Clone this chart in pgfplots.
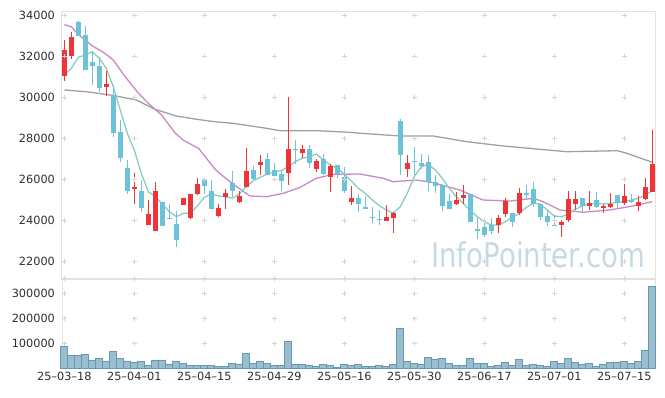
\documentclass[border=0pt]{standalone}
\usepackage{fontspec}
\setmainfont{DejaVu Sans}
\usepackage{pgfplots}
\usepackage{pgfplotstable}
\pgfplotsset{compat=1.18}
\definecolor{cred}{RGB}{238,52,56}
\definecolor{cblue}{RGB}{108,194,216}
\definecolor{cteal}{RGB}{138,204,190}
\definecolor{cpurple}{RGB}{200,138,194}
\definecolor{cgray}{RGB}{150,150,150}
\definecolor{volfill}{RGB}{152,190,207}
\definecolor{voledge}{RGB}{104,152,176}
\definecolor{frame}{RGB}{226,226,226}
\definecolor{cross}{RGB}{212,212,212}
\definecolor{wm}{RGB}{198,217,228}

% up (red) candles: index open high low close
\pgfplotstableread{
i o h l c
0 31050 32800 30800 32300
1 32000 33150 31850 32950
6 30500 31250 30050 30650
10 25500 26300 24800 25600
12 23750 25000 23750 24300
13 23500 25850 23500 25450
17 24750 25100 24750 25100
18 24100 25300 24050 25300
19 25300 26050 25250 25750
22 24200 24800 24150 24600
23 25150 25500 24550 25350
25 24900 25450 24850 25200
26 25600 27500 25600 26400
28 26700 27200 26200 26850
32 26300 30000 25700 27450
34 27300 27650 27050 27450
36 26500 27000 26350 26900
38 26100 26750 25400 26650
41 24900 25650 24750 25100
46 23950 24750 23950 24150
47 24100 24400 23400 24350
49 26500 27200 26100 26800
56 24800 25400 24750 25000
57 25100 25700 24800 25250
62 23750 24250 23400 24100
63 24300 25100 24150 24950
65 24350 25550 24250 25350
71 23750 24000 23200 23900
72 24000 25450 23900 25050
73 24800 25450 24500 25050
75 24700 25450 24500 24850
77 24600 24800 24350 24700
78 24650 25350 24600 24800
80 24850 25750 24750 25200
82 24700 25200 24450 24900
83 25050 26050 25000 25600
84 25400 28400 25400 26750
}\uptab

% down (blue) candles: index open high low close
\pgfplotstableread{
i o h l c
2 33650 33700 33000 33000
3 33050 33450 31300 31300
4 31700 32200 30600 31500
5 31500 31950 30250 30450
7 30100 30600 28050 28250
8 28300 28900 26850 27050
9 26550 26950 25300 25450
11 25450 25950 24400 24600
14 24900 24900 23700 23700
15 24100 24800 24050 24050
16 23800 24450 22700 23050
20 25950 25950 25300 25650
21 25450 25950 24550 24550
24 25800 26400 25150 25450
27 26450 26650 25900 26000
29 27000 27300 26200 26200
30 26450 26800 26150 26150
31 26250 26450 25450 25900
33 27450 27900 26750 27400
35 27450 27650 26550 26800
37 27000 27250 26200 26250
39 26700 26700 26050 26250
40 26100 26600 25350 25450
42 25100 25300 24400 24800
43 24650 25200 24550 24550
44 24150 24650 23850 24100
45 24050 24500 23750 24000
48 28850 28950 26200 27200
50 26900 27550 26200 26850
51 26800 27250 26500 26650
52 26850 27200 25450 25850
53 25850 26200 25350 25650
54 25700 25700 24450 24700
55 24950 25300 24550 24550
58 25300 25300 23900 23900
59 23550 24100 23100 23500
60 23650 24100 23200 23300
61 23750 24100 23350 23500
64 24350 24350 23650 23900
66 25350 25700 25000 25250
67 25500 25850 24650 24800
68 24800 24800 24000 24150
69 24200 24500 23700 23900
70 23750 24250 23700 23700
74 25100 25100 24400 24700
76 25000 25400 24600 24650
79 25250 25250 24550 24850
81 25000 25300 24850 24900
}\downtab

\pgfplotstableread{
i v
0 89000
1 52500
2 52500
3 56500
4 33500
5 40500
6 29500
7 69000
8 40500
9 29500
10 25500
11 28500
12 13500
13 33500
14 33500
15 17500
16 29500
17 20000
18 12000
19 12000
20 12000
21 12000
22 8000
23 8000
24 20000
25 17500
26 60500
27 20000
28 29500
29 20000
30 12000
31 12000
32 109000
33 16000
34 16000
35 12000
36 8000
37 16000
38 12000
39 4000
40 16000
41 12000
42 16000
43 8000
44 8000
45 12000
46 8000
47 16000
48 162000
49 28500
50 20000
51 16000
52 44500
53 36500
54 40500
55 20000
56 12000
57 12000
58 40500
59 20000
60 20000
61 8000
62 12000
63 24000
64 12000
65 36500
66 12000
67 16000
68 12000
69 8000
70 28500
71 20000
72 40500
73 24000
74 16000
75 20000
76 8000
77 16000
78 24000
79 24000
80 28500
81 20000
82 28500
83 73000
84 327500
}\voltab

\pgfplotsset{
  chartbase/.style={
    scale only axis, width=593.3pt, xmin=-0.37, xmax=84.39,
    axis line style={draw=frame}, major tick length=0pt,
    scaled ticks=false,
    tick label style={font=\fontsize{11.3}{13}\selectfont, color=black!82, inner sep=0pt},
    /pgf/number format/assume math mode=true,
    /pgf/number format/fixed,
    /pgf/number format/precision=0,
    /pgf/number format/1000 sep={},
    yticklabel style={xshift=-6.6pt},
    xticklabel style={yshift=-3.6pt},
    clip=false,
  },
  candle/.style 2 args={draw=none, mark=none, forget plot,
    error bars/.cd, y dir=plus, y explicit, error mark=none,
    error bar style={draw=#1, line width=#2, line cap=butt}},
}

\begin{document}
\begin{tikzpicture}
\path (0pt,0pt) rectangle (665pt,397pt);
% ---------------- price panel
\begin{axis}[chartbase, name=main, at={(61.7pt,118.3pt)}, anchor=south west,
  height=267pt, ymin=21153, ymax=34161,
  ytick={22000,24000,26000,28000,30000,32000,34000},
  xtick={0,10,...,80}, xticklabels={}]
\pgfplotsinvokeforeach{0,10,...,80}{
  \addplot[draw=none, mark=+, mark size=2.4pt, mark options={draw=cross}, forget plot]
    coordinates {(#1,22000)(#1,24000)(#1,26000)(#1,28000)(#1,30000)(#1,32000)(#1,34000)};
}
\node[text=wm, font=\fontsize{34}{36}\selectfont, anchor=center]
  at (rel axis cs:0.8033,0.0876) {\scalebox{0.81}[1]{InfoPointer.com}};
% moving averages
\addplot[cgray, line width=1.3pt, opacity=0.9, mark=none] coordinates {
(0,30350)(3.5,30250)(7,30080)(10.3,29860)(13,29400)(16,29080)(18.7,28930)(21.5,28800)
(24.1,28724)(28.9,28480)(30.8,28365)(36,28365)(40.8,28285)(42.4,28236)(48,28105)
(52.7,28105)(57.5,27827)(62.3,27633)(67,27486)(71.8,27340)(79,27389)(80.4,27262)(84,26823)};
\addplot[cpurple, line width=1.3pt, mark=none] coordinates {
(0,33530)(1,33430)(2,33050)(3,32780)(4,32500)(5.8,32134)(7,31808)(8.7,30994)(10.6,30185)
(12,29700)(13.9,29128)(15.8,28266)(17,27900)(19.2,27500)(21.5,26500)(22.5,26200)
(24.1,25767)(26.5,25182)(28.9,25149)(31.3,25313)(33.7,25605)(36,26044)(38.4,26239)
(42.2,26254)(45.6,26044)(47,25878)(50.3,25961)(52.7,25830)(56.5,25474)(59.8,24987)
(63.7,24938)(67,25070)(68.4,24904)(70.8,24500)(74.1,24387)(77.9,24500)(81.2,24695)(84,24904)};
\addplot[cteal, line width=1.3pt, mark=none] coordinates {
(0,31077)(1,31403)(2,31939)(3,32050)(4,32212)(5,31890)(6,31403)(7,30507)(8,29372)(9,28236)
(10,27423)(11,26287)(12,25391)(13,25149)(14,24792)(15,24418)(16,24175)(17,24338)(18,24338)
(19,24695)(20,25118)(21,25279)(22,25182)(23,25150)(24,25070)(25,25279)(26,25636)(27,25927)
(28,26092)(29,26254)(30,26366)(31,26415)(32,26610)(33,26854)(34,27018)(35,27098)(36,27228)
(37,26936)(38,26692)(39,26531)(40,26254)(41,25912)(42,25557)(43,25313)(44,24987)(45,24711)
(46,24500)(47,24338)(48,24662)(49,25313)(50,26124)(51,26610)(52,26726)(53,26449)(54,26044)
(55,25557)(56,25149)(57,24824)(58,24467)(59,24175)(60,23930)(61,23769)(62,23769)(63,23930)
(64,24143)(65,24338)(66,24630)(67,24825)(68,24792)(69,24500)(70,24207)(71,24175)(72,24289)
(73,24532)(74,24695)(75,24792)(76,24825)(77,24792)(78,24825)(79,24873)(80,24906)(81,24987)
(82,25069)(83,25231)(84,25441)};
% wicks
\addplot[candle={cred}{1pt}]
  table[x=i, y=l, y error expr=\thisrow{h}-\thisrow{l}] {\uptab};
\addplot[candle={cblue}{1pt}]
  table[x=i, y=l, y error expr=\thisrow{h}-\thisrow{l}] {\downtab};
% bodies
\addplot[candle={cred}{5.3pt}]
  table[x=i, y=o, y error expr={max(\thisrow{c}-\thisrow{o},50)}] {\uptab};
\addplot[candle={cblue}{5.3pt}]
  table[x=i, y=c, y error expr={max(\thisrow{o}-\thisrow{c},50)}] {\downtab};
\end{axis}
% ---------------- volume panel
\begin{axis}[chartbase, at={(main.south west)}, anchor=north west,
  height=89.6pt, ymin=0, ymax=360000,
  ytick={100000,200000,300000},
  xtick={0,10,...,80},
  xticklabels={25–03–18,25–04–01,25–04–15,25–04–29,25–05–16,25–05–30,25–06–17,25–07–01,25–07–15}]
\pgfplotsinvokeforeach{0,10,...,80}{
  \addplot[draw=none, mark=+, mark size=2.4pt, mark options={draw=cross}, forget plot]
    coordinates {(#1,100000)(#1,200000)(#1,300000)(#1,360000)};
}
\addplot[ybar, bar width=7pt, fill=volfill, draw=voledge, line width=0.6pt]
  table[x=i, y=v] {\voltab};
\end{axis}
\end{tikzpicture}
\end{document}
